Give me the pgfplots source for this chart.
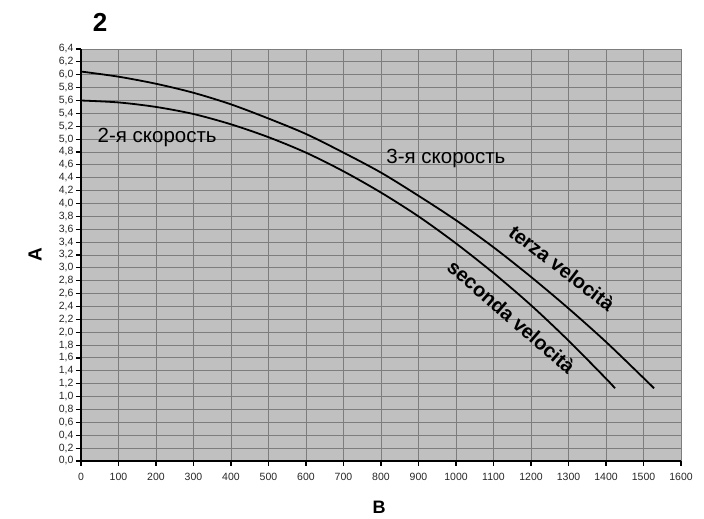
\documentclass[border=0pt]{standalone}
\usepackage{fontspec}
\setmainfont{Liberation Sans}
\usepackage{pgfplots}
\pgfplotsset{compat=1.18}
\definecolor{plotbg}{RGB}{192,192,192}
\definecolor{gridc}{RGB}{125,125,125}
\begin{document}
\begin{tikzpicture}
% overall canvas, 1pt = 1px of the reference
\path[use as bounding box] (-81pt,-58pt) rectangle (623pt,461pt);
\begin{axis}[
    at={(0pt,0pt)}, anchor=south west,
    scale only axis,
    width=600pt, height=412pt,
    xmin=0, xmax=1600, ymin=0, ymax=6.4,
    xtick={0,100,...,1600},
    ytick={0,0.2,...,6.41},
    axis background/.style={fill=plotbg},
    grid=major,
    major grid style={gridc, line width=1pt},
    axis x line*=bottom, axis y line*=left,
    axis line style={-, black, line width=1.8pt},
    tick align=outside, major tick length=5pt,
    tick style={black, line width=1.2pt},
    /pgf/number format/assume math mode=true,
    ticklabel style={font=\fontsize{10.5}{12}\selectfont, text=black!85},
    yticklabel style={xshift=1pt, /pgf/number format/.cd, fixed, fixed zerofill, precision=1, use comma},
    xticklabel style={yshift=-4pt, /pgf/number format/.cd, fixed, 1000 sep={}},
    clip=false,
]
% terza velocita
\addplot[black, line width=1.8pt, smooth] coordinates {
(0,6.05) (100,5.97) (200,5.86) (300,5.72) (400,5.54) (500,5.32) (600,5.08)
(700,4.79) (800,4.48) (900,4.12) (1000,3.74) (1100,3.32) (1200,2.86)
(1300,2.37) (1400,1.85) (1500,1.29) (1528,1.13)};
% seconda velocita
\addplot[black, line width=1.8pt, smooth] coordinates {
(0,5.60) (100,5.57) (200,5.50) (300,5.39) (400,5.23) (500,5.03) (600,4.79)
(700,4.50) (800,4.17) (900,3.80) (1000,3.38) (1100,2.92) (1200,2.42)
(1300,1.87) (1400,1.28) (1424,1.13)};
\node[font=\fontsize{20.5}{24}\selectfont] at (axis cs:203,5.03) {2-я скорость};
\node[font=\fontsize{20.5}{24}\selectfont] at (axis cs:973,4.70) {3-я скорость};
\node[font=\fontsize{20}{24}\selectfont\bfseries, rotate=-37.5, inner sep=0pt] at (axis cs:1283,3.00) {terza velocità};
\node[font=\fontsize{20}{24}\selectfont\bfseries, rotate=-41, inner sep=0pt] at (axis cs:1148,2.24) {seconda velocità};
\end{axis}
\node[font=\fontsize{26}{30}\selectfont\bfseries] at (19pt,439pt) {2};
\node[font=\fontsize{19}{22}\selectfont\bfseries, rotate=90] at (-46pt,206pt) {A};
\node[font=\fontsize{18}{21}\selectfont\bfseries] at (298pt,-46pt) {B};
\end{tikzpicture}
\end{document}
